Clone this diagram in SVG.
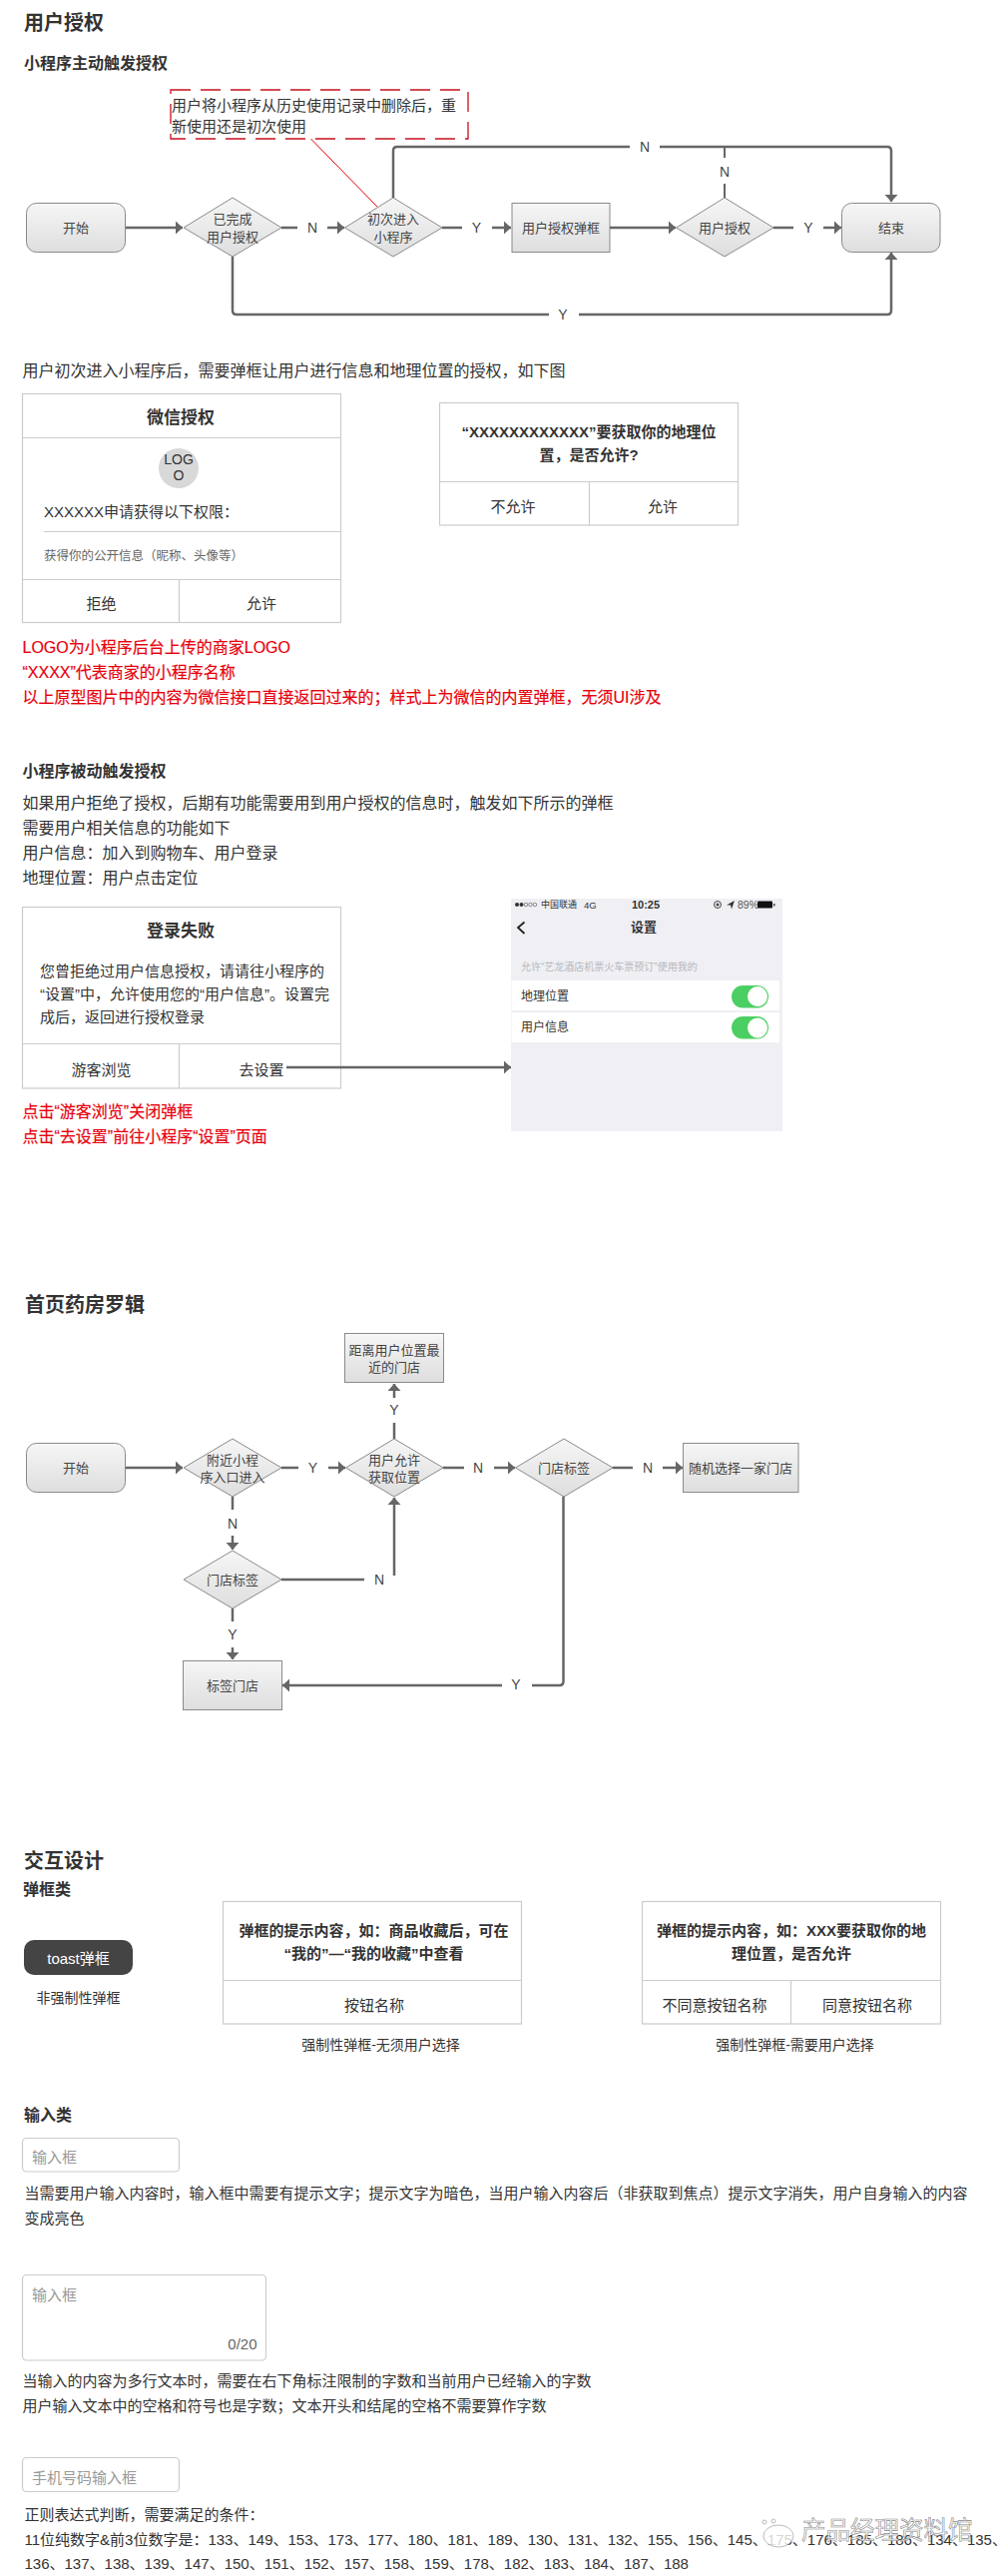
<svg xmlns="http://www.w3.org/2000/svg" width="1009" height="2580" viewBox="0 0 1009 2580">
<style>
text{font-family:"Liberation Sans","Noto Sans CJK SC",sans-serif;fill:#333;dominant-baseline:central}
.h1{font-size:20px;font-weight:700}
.h2{font-size:16px;font-weight:700}
.p{font-size:16px}
.p15{font-size:15px}
.red{font-size:16px;fill:#e8000b;stroke:#e8000b;stroke-width:.2}
.n{font-size:13px;text-anchor:middle;fill:#444}
.lab{font-size:14px;text-anchor:middle;fill:#444}
.c{text-anchor:middle}
.b{font-weight:700}
.f15{font-size:15px}
.f17{font-size:17px}
.f14{font-size:14px}
.ph{fill:#999}
.card{fill:#fff;stroke:#ccc;stroke-width:1.2}
.div{stroke:#ccc;stroke-width:1.2;fill:none}
.node{fill:url(#g);stroke:#8a8a8a;stroke-width:1}
.e{fill:none;stroke:#666;stroke-width:2.5}
.a{marker-end:url(#arr)}
.thin{stroke-width:2}
.input{fill:#fff;stroke:#ccc;stroke-width:1.2}
.tg{fill:#4ccf62}
.kn{fill:#fff}
</style>
<defs>
<linearGradient id="g" x1="0" y1="0" x2="0" y2="1"><stop offset="0" stop-color="#f6f6f6"/><stop offset="1" stop-color="#dedede"/></linearGradient>
<marker id="arr" markerUnits="userSpaceOnUse" markerWidth="8" markerHeight="14" refX="7" refY="7" orient="auto"><path d="M0 .5L7 7L0 13.500Z" fill="#666"/></marker>
</defs>
<rect width="1009" height="2580" fill="#fff"/>

<text class="h1" x="24" y="23">用户授权</text>
<text class="h2" x="24" y="63">小程序主动触发授权</text>

<g id="note1">
<rect x="171" y="90" width="298" height="49" fill="none" stroke="#c8101c" stroke-width="1.300" stroke-dasharray="20 10"/>
<text class="f15" x="172" y="105">用户将小程序从历史使用记录中删除后&#65292;重</text>
<text class="f15" x="172" y="126">新使用还是初次使用</text>
</g>
<g id="flow1-start"><rect class="node" x="26.500" y="203.500" width="99" height="49" rx="10"/><text class="n" x="76" y="228">开始</text></g>
<g id="flow1-d1"><path class="node" d="M233 198L282 228L233 257L184 228Z"/><text class="n" x="233" y="219">已完成</text><text class="n" x="233" y="237">用户授权</text></g>
<g id="flow1-d2"><path class="node" d="M394 198L443 228L394 257L345.500 228Z"/><text class="n" x="394" y="219">初次进入</text><text class="n" x="394" y="237">小程序</text></g>
<g id="flow1-rect"><rect class="node" x="513" y="203.500" width="98" height="49"/><text class="n" x="562" y="228">用户授权弹框</text></g>
<g id="flow1-d3"><path class="node" d="M726 198L775 228L726 257L677.500 228Z"/><text class="n" x="726" y="228">用户授权</text></g>
<g id="flow1-end"><rect class="node" x="843.500" y="203.500" width="98.500" height="49" rx="10"/><text class="n" x="893" y="228">结束</text></g>

<text class="p" x="22.500" y="371">用户初次进入小程序后&#65292;需要弹框让用户进行信息和地理位置的授权&#65292;如下图</text>

<g id="wechat-auth">
<rect class="card" x="22.500" y="394.500" width="319" height="229"/>
<path class="div" d="M22.500 438.500H341.500M44 532.500H341.500M22.500 580.500H341.500M179.500 580.500V623.500"/>
<text class="f17 b c" x="181" y="418">微信授权</text>
<ellipse cx="179" cy="469" rx="20" ry="20" fill="#d8d8d8"/>
<text class="f14 c" x="179" y="460">LOG</text><text class="f14 c" x="179" y="476">O</text>
<text class="f15" x="44" y="512">XXXXXX申请获得以下权限&#65306;</text>
<text x="44" y="557" font-size="12.500" style="fill:#666">获得你的公开信息&#65288;昵称、头像等&#65289;</text>
<text class="f15 c" x="101.500" y="604">拒绝</text>
<text class="f15 c" x="262" y="604">允许</text>
</g>
<g id="location-auth">
<rect class="card" x="440.500" y="403.500" width="299" height="122.500"/>
<path class="div" d="M440.500 482.500H739.500M590.500 482.500V526"/>
<text class="f15 b c" x="590" y="432">“XXXXXXXXXXXX”要获取你的地理位</text>
<text class="f15 b c" x="590" y="455">置&#65292;是否允许?</text>
<text class="f15 c" x="514" y="507">不允许</text>
<text class="f15 c" x="664" y="507">允许</text>
</g>
<text class="red" x="22.500" y="648">LOGO为小程序后台上传的商家LOGO</text>
<text class="red" x="22.500" y="673">“XXXX”代表商家的小程序名称</text>
<text class="red" x="22.500" y="698">以上原型图片中的内容为微信接口直接返回过来的&#65307;样式上为微信的内置弹框&#65292;无须UI涉及</text>

<text class="h2" x="22.500" y="772">小程序被动触发授权</text>
<text class="p" x="22.500" y="804">如果用户拒绝了授权&#65292;后期有功能需要用到用户授权的信息时&#65292;触发如下所示的弹框</text>
<text class="p" x="22.500" y="829">需要用户相关信息的功能如下</text>
<text class="p" x="22.500" y="854">用户信息&#65306;加入到购物车、用户登录</text>
<text class="p" x="22.500" y="879">地理位置&#65306;用户点击定位</text>

<g id="login-fail">
<rect class="card" x="22.500" y="908.500" width="319" height="181.500"/>
<path class="div" d="M22.500 1045.500H341.500M179.500 1045.500V1090"/>
<text class="f17 b c" x="181" y="932">登录失败</text>
<text class="f15" x="40" y="972">您曾拒绝过用户信息授权&#65292;请请往小程序的</text>
<text class="f15" x="40" y="995">“设置”中&#65292;允许使用您的“用户信息”。设置完</text>
<text class="f15" x="40" y="1018">成后&#65292;返回进行授权登录</text>
<text class="f15 c" x="101.500" y="1071">游客浏览</text>
<text class="f15 c" x="262" y="1071">去设置</text>
</g>

<g id="phone">
<rect x="512" y="900" width="272" height="233" fill="#efeff4"/>
<g fill="#333"><circle cx="518" cy="906" r="2"/><circle cx="522.500" cy="906" r="2"/></g>
<g fill="none" stroke="#666" stroke-width=".7"><circle cx="527" cy="906" r="1.800"/><circle cx="531.500" cy="906" r="1.800"/><circle cx="536" cy="906" r="1.800"/></g>
<text x="542" y="906" font-size="9">中国联通</text>
<text x="585" y="906" font-size="9.500">4G</text>
<text x="647" y="906" font-size="11" text-anchor="middle" font-weight="700">10:25</text>
<circle cx="719" cy="906" r="3.500" fill="none" stroke="#444"/><circle cx="719" cy="906" r="1.500" fill="#444"/>
<path d="M736 902L728 906.500H732L733 910.500Z" fill="#333"/>
<text x="739" y="906" font-size="10.500" style="fill:#555">89%</text>
<rect x="759" y="902.500" width="15" height="7" rx="1" fill="#111"/><rect x="775" y="905" width="1.500" height="2.500" fill="#444"/>
<path d="M525.500 923.500L519 929L525.500 935" fill="none" stroke="#222" stroke-width="1.800"/>
<text x="645" y="928" font-size="13" text-anchor="middle" font-weight="700">设置</text>
<text x="522" y="968" font-size="10" style="fill:#b8b8bc">允许“艺龙酒店机票火车票预订”使用我的</text>
<rect x="512.500" y="982" width="268.500" height="30" fill="#fff"/>
<rect x="512.500" y="1014" width="268.500" height="30" fill="#fff"/>
<text x="522" y="998" font-size="12">地理位置</text>
<text x="522" y="1029" font-size="12">用户信息</text>
<rect class="tg" x="733" y="987" width="37" height="22.500" rx="11.250"/><circle class="kn" cx="759" cy="998" r="10"/>
<rect class="tg" x="733" y="1018" width="37" height="22.500" rx="11.250"/><circle class="kn" cx="759" cy="1029.500" r="10"/>
</g>

<text class="red" x="22.500" y="1113">点击“游客浏览”关闭弹框</text>
<text class="red" x="22.500" y="1138">点击“去设置”前往小程序“设置”页面</text>

<text class="h1" x="25" y="1307">首页药房罗辑</text>
<g id="flow2-nearest"><rect class="node" x="345.500" y="1335.500" width="99" height="49"/><text class="n" x="395" y="1352">距离用户位置最</text><text class="n" x="395" y="1369">近的门店</text></g>
<g id="flow2-start"><rect class="node" x="26.500" y="1445.500" width="99" height="49" rx="10"/><text class="n" x="76" y="1470">开始</text></g>
<g id="flow2-d1"><path class="node" d="M233 1441L282 1470L233 1499L184 1470Z"/><text class="n" x="233" y="1462">附近小程</text><text class="n" x="233" y="1479">序入口进入</text></g>
<g id="flow2-d2"><path class="node" d="M395 1441L444 1470L395 1499L346.500 1470Z"/><text class="n" x="395" y="1462">用户允许</text><text class="n" x="395" y="1479">获取位置</text></g>
<g id="flow2-d3"><path class="node" d="M565 1441L614 1470L565 1499L516.500 1470Z"/><text class="n" x="565" y="1470">门店标签</text></g>
<g id="flow2-random"><rect class="node" x="684.500" y="1445.500" width="115.500" height="49"/><text class="n" x="742" y="1470">随机选择一家门店</text></g>
<g id="flow2-d4"><path class="node" d="M233 1553L282 1582L233 1611L184 1582Z"/><text class="n" x="233" y="1582">门店标签</text></g>
<g id="flow2-label"><rect class="node" x="183.500" y="1663.500" width="99" height="49"/><text class="n" x="233" y="1688">标签门店</text></g>

<text class="h1" x="24" y="1864">交互设计</text>
<text class="h2" x="23" y="1892">弹框类</text>
<g id="toast">
<rect x="24" y="1943" width="109" height="35" rx="10" fill="#444"/>
<text class="f15 c" x="78.500" y="1961" style="fill:#fff">toast弹框</text>
<text class="f14 c" x="78.500" y="2001">非强制性弹框</text>
</g>
<g id="modal-single">
<rect class="card" x="223.500" y="1904.500" width="299" height="122.500"/>
<path class="div" d="M223.500 1983.500H522.500"/>
<text class="f15 b c" x="374.500" y="1933">弹框的提示内容&#65292;如&#65306;商品收藏后&#65292;可在</text>
<text class="f15 b c" x="374.500" y="1956">“我的”—“我的收藏”中查看</text>
<text class="f15 c" x="375" y="2008">按钮名称</text>
<text class="f14 c" x="381.500" y="2048">强制性弹框-无须用户选择</text>
</g>
<g id="modal-double">
<rect class="card" x="643.500" y="1904.500" width="299" height="122.500"/>
<path class="div" d="M643.500 1983.500H942.500M792.500 1983.500V2027"/>
<text class="f15 b c" x="793" y="1933">弹框的提示内容&#65292;如&#65306;XXX要获取你的地</text>
<text class="f15 b c" x="793" y="1956">理位置&#65292;是否允许</text>
<text class="f15 c" x="716" y="2008">不同意按钮名称</text>
<text class="f15 c" x="869" y="2008">同意按钮名称</text>
<text class="f14 c" x="796.500" y="2048">强制性弹框-需要用户选择</text>
</g>

<text class="h2" x="24" y="2118">输入类</text>
<g id="input1"><rect class="input" x="22.500" y="2141.500" width="157" height="33.500" rx="4"/><text class="f15 ph" x="32" y="2160">输入框</text></g>
<text class="p15" x="24.500" y="2196">当需要用户输入内容时&#65292;输入框中需要有提示文字&#65307;提示文字为暗色&#65292;当用户输入内容后&#65288;非获取到焦点&#65289;提示文字消失&#65292;用户自身输入的内容</text>
<text class="p15" x="24.500" y="2221">变成亮色</text>

<g id="input2"><rect class="input" x="22.500" y="2278.500" width="244" height="85.500" rx="4"/><text class="f15 ph" x="32" y="2298">输入框</text><text class="f15" x="257.500" y="2347" text-anchor="end" style="fill:#666">0/20</text></g>
<text class="p15" x="22.500" y="2384">当输入的内容为多行文本时&#65292;需要在右下角标注限制的字数和当前用户已经输入的字数</text>
<text class="p15" x="22.500" y="2409">用户输入文本中的空格和符号也是字数&#65307;文本开头和结尾的空格不需要算作字数</text>

<g id="input3"><rect class="input" x="22.500" y="2461.500" width="157" height="34" rx="4"/><text class="f15 ph" x="32" y="2481">手机号码输入框</text></g>
<text class="p15" x="24.500" y="2518">正则表达式判断&#65292;需要满足的条件&#65306;</text>
<text class="p15" x="24.500" y="2543">11位纯数字&amp;前3位数字是&#65306;133、149、153、173、177、180、181、189、130、131、132、155、156、145、175、176、185、186、134、135、</text>
<text class="p15" x="24.500" y="2567">136、137、138、139、147、150、151、152、157、158、159、178、182、183、184、187、188</text>

<g id="connectors">
<line class="e a" x1="126" y1="228" x2="183" y2="228"/>
<line class="e" x1="282" y1="228" x2="298" y2="228"/><line class="e a" x1="328" y1="228" x2="345" y2="228"/>
<text class="lab" x="313" y="228">N</text>
<line class="e" x1="443" y1="228" x2="463" y2="228"/><line class="e a" x1="493" y1="228" x2="512" y2="228"/>
<text class="lab" x="477.500" y="228">Y</text>
<line class="e a" x1="611" y1="228" x2="677" y2="228"/>
<line class="e" x1="775" y1="228" x2="795" y2="228"/><line class="e a" x1="825" y1="228" x2="843" y2="228"/>
<text class="lab" x="810" y="228">Y</text>
<path class="e" d="M394 198V151Q394 147 398 147H631"/>
<path class="e a" d="M661 147H889Q893 147 893 151V202"/>
<text class="lab" x="646" y="147">N</text>
<path class="e thin" d="M726 198V184M726 158V148"/>
<text class="lab" x="726" y="172">N</text>
<path class="e" d="M233 257V311Q233 315 237 315H550"/>
<path class="e a" d="M580 315H889Q893 315 893 311V253"/>
<text class="lab" x="564" y="315">Y</text>
<line x1="311.500" y1="139" x2="378" y2="207" stroke="#e8000b" stroke-width="1"/>

<line class="e a" x1="287" y1="1069" x2="512" y2="1069"/>

<line class="e a" x1="126" y1="1470" x2="183" y2="1470"/>
<line class="e" x1="282" y1="1470" x2="299" y2="1470"/><line class="e a" x1="329" y1="1470" x2="346" y2="1470"/>
<text class="lab" x="313.500" y="1470">Y</text>
<line class="e" x1="444" y1="1470" x2="465" y2="1470"/><line class="e a" x1="495" y1="1470" x2="516" y2="1470"/>
<text class="lab" x="479" y="1470">N</text>
<line class="e" x1="614" y1="1470" x2="634" y2="1470"/><line class="e a" x1="664" y1="1470" x2="684" y2="1470"/>
<text class="lab" x="649" y="1470">N</text>
<line class="e" x1="395" y1="1441" x2="395" y2="1425"/><line class="e a" x1="395" y1="1400" x2="395" y2="1386"/>
<text class="lab" x="395" y="1412">Y</text>
<line class="e" x1="233" y1="1499" x2="233" y2="1512"/><line class="e a" x1="233" y1="1538" x2="233" y2="1552"/>
<text class="lab" x="233" y="1526">N</text>
<line class="e" x1="282" y1="1582" x2="365" y2="1582"/><line class="e a" x1="395" y1="1578" x2="395" y2="1500"/>
<text class="lab" x="380" y="1582">N</text>
<line class="e" x1="233" y1="1611" x2="233" y2="1624"/><line class="e a" x1="233" y1="1650" x2="233" y2="1662"/>
<text class="lab" x="233" y="1637">Y</text>
<path class="e" d="M564.500 1499V1684Q564.500 1688 560.500 1688H533"/>
<line class="e a" x1="503" y1="1688" x2="283" y2="1688"/>
<text class="lab" x="517" y="1687">Y</text>
</g>

<g id="watermark">
<ellipse cx="780" cy="2540" rx="15" ry="11" fill="#fff" fill-opacity=".8" stroke="#aaa" stroke-width=".8"/>
<circle cx="766" cy="2526" r="2" fill="none" stroke="#bbb"/><circle cx="775" cy="2525" r="2" fill="none" stroke="#bbb"/>
<text x="803" y="2534" font-size="24.500" style="fill:#fff;fill-opacity:.75;stroke:#888;stroke-width:.6">产品经理资料馆</text>
</g>
</svg>
